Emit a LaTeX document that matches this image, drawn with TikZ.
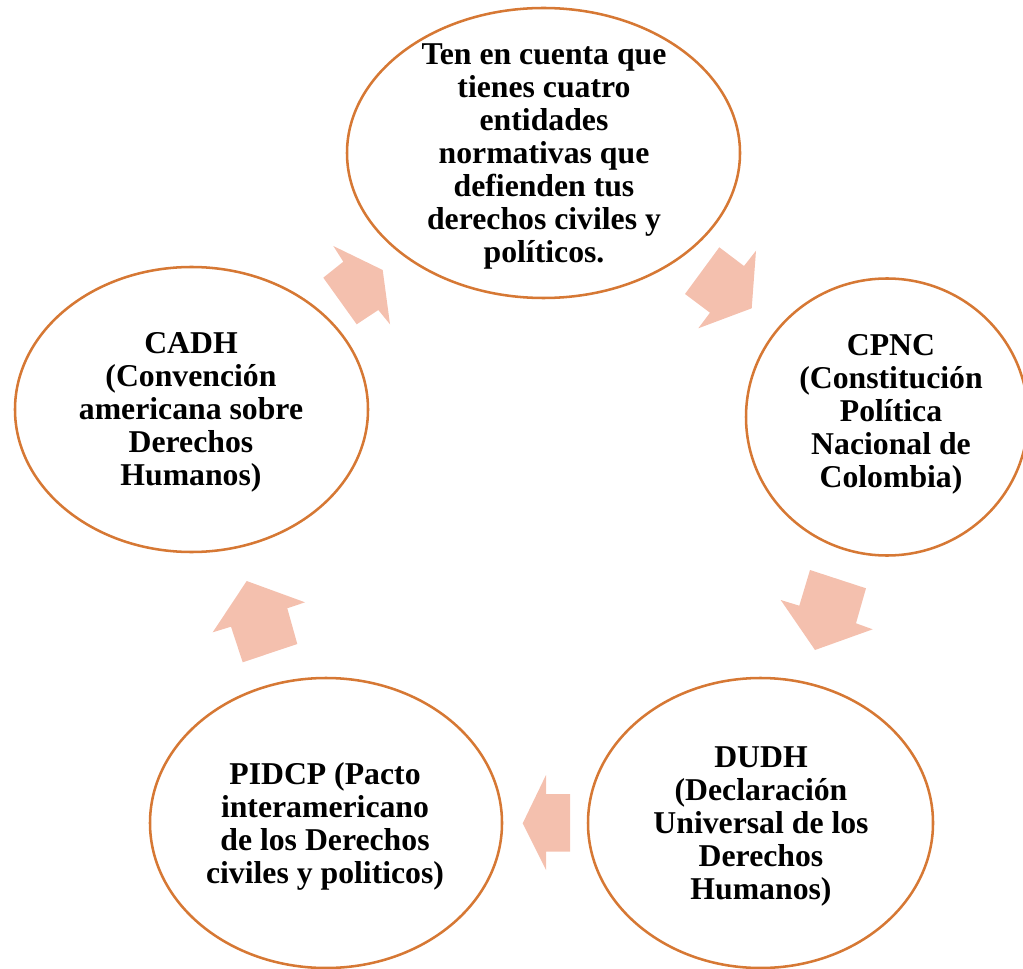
\documentclass[tikz,border=0pt]{standalone}
\usepackage{fontspec}
\setmainfont{Liberation Serif}
\usetikzlibrary{shapes.geometric}
\definecolor{ringline}{RGB}{214,120,52}
\definecolor{arrowfill}{RGB}{244,192,174}
\begin{document}
\begin{tikzpicture}[x=0.75pt,y=-0.75pt,
  ring/.style={ellipse, draw=ringline, line width=1.9pt, fill=white, inner sep=0pt},
  lbl/.style={align=center, font=\bfseries\fontsize{23.8pt}{24.75pt}\selectfont, inner sep=0pt},
  blockarrow/.style={fill=arrowfill, draw=none}]
\useasboundingbox (0,0) rectangle (1023,969);
% block arrows of the cycle
\fill[blockarrow] (382.7,270) -- (333.3,246) -- (343.3,261.7) -- (323.3,277.7) -- (356.7,324.3) -- (378.3,310) -- (390,324.3) -- cycle;
\fill[blockarrow] (751.7,308.3) -- (756,250.7) -- (744,266) -- (719.3,247.3) -- (685,294) -- (710,312.7) -- (698.3,328.3) -- cycle;
\fill[blockarrow] (815,650) -- (872.7,629.3) -- (856,623.3) -- (866,588.3) -- (810,570) -- (799.3,605.7) -- (780.7,600) -- cycle;
\fill[blockarrow] (522.7,823.3) -- (546,775) -- (546,794) -- (570,794) -- (570,851.7) -- (546,851.7) -- (546,870) -- cycle;
\fill[blockarrow] (246.7,581) -- (305,602.3) -- (287.3,608.3) -- (297.3,644) -- (242.7,662.3) -- (231,626.7) -- (212.7,632.3) -- cycle;
% ellipses
\node[ring, minimum width=294.75pt, minimum height=217.5pt] (top) at (543.5,153) {};
\node[ring, minimum width=211.5pt, minimum height=207.75pt] (cpnc) at (887,417) {};
\node[ring, minimum width=264.75pt, minimum height=213.75pt] (cadh) at (191.5,409.5) {};
\node[ring, minimum width=264pt, minimum height=217.5pt] (pidcp) at (326,823) {};
\node[ring, minimum width=258.75pt, minimum height=217.5pt] (dudh) at (760.5,823) {};
% texts
\node[lbl] (toptext) at (544,156) {Ten en cuenta que\\tienes cuatro\\entidades\\normativas que\\defienden tus\\derechos civiles y\\políticos.};
\node[lbl] (cpnctext) at (891,414) {CPNC\\(Constitución\\Política\\Nacional de\\Colombia)};
\node[lbl] (cadhtext) at (191,412) {CADH\\(Convención\\americana sobre\\Derechos\\Humanos)};
\node[lbl] (pidcptext) at (325,826) {PIDCP (Pacto\\interamericano\\de los Derechos\\civiles y politicos)};
\node[lbl] (dudhtext) at (761,826) {DUDH\\(Declaración\\Universal de los\\Derechos\\Humanos)};
\end{tikzpicture}
\end{document}
